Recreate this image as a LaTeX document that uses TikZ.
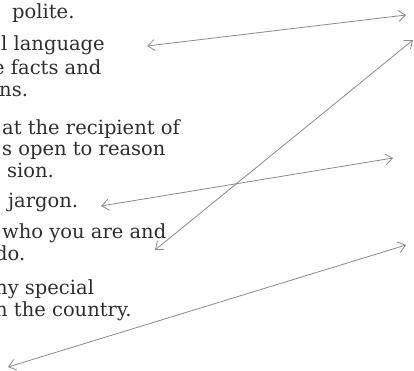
\documentclass[tikz,border=0pt]{standalone}
\usepackage{fontspec}
\setmainfont{DejaVu Serif}
\usepackage{xcolor}
\definecolor{inktext}{HTML}{2E2E2E}
\definecolor{inkline}{HTML}{8A8A8A}
\usetikzlibrary{arrows.meta, positioning}

\begin{document}
\begin{tikzpicture}[x=1pt, y=-1pt,
  every node/.style={font=\fontsize{19.5}{21.5}\selectfont, text=inktext,
    inner sep=0pt, align=left},
  item/.style={anchor=base west},
  link/.style={draw=inkline, line width=0.8pt,
    {Straight Barb[length=7pt,width=11pt]}-{Straight Barb[length=7pt,width=11pt]}}]

  \useasboundingbox (0,0) rectangle (414,370);
  \clip (0,0) rectangle (414,370);

  % Item list (cut at the left edge; base = last line)
  \node[item] (polite)  at (12,18)  {polite.};
  \node[item] (lang)    at (1,50)   {l language};
  \node[item] (facts)   at (-7,96)  {e facts and\\\hspace*{6pt}ns.};
  \node[item] (recip)   at (2,177)  {at the recipient of\\s open to reason\\\hspace*{5pt}sion.};
  \node[item] (jargon)  at (8,207)  {jargon.};
  \node[item] (who)     at (2,260)  {who you are and\\\hspace*{-7pt}do.};
  \node[item] (special) at (-5,316) {ny special\\n the country.};

  % Free arrow ends
  \coordinate (langtip)    at (147,46);
  \coordinate (whotip)     at (155,250);
  \coordinate (jargontip)  at (101,206);
  \coordinate (lowtip)     at (8,367);
  \coordinate (righta)     at (406,15);
  \coordinate (rightb)     at (413,40);
  \coordinate (rightc)     at (393,158);
  \coordinate (rightd)     at (406,245);

  % Connectors
  \draw[link] (langtip) -- (righta);
  \draw[link] (whotip) -- (rightb);
  \draw[link] (jargontip) -- (rightc);
  \draw[link] (lowtip) -- (rightd);
\end{tikzpicture}
\end{document}
